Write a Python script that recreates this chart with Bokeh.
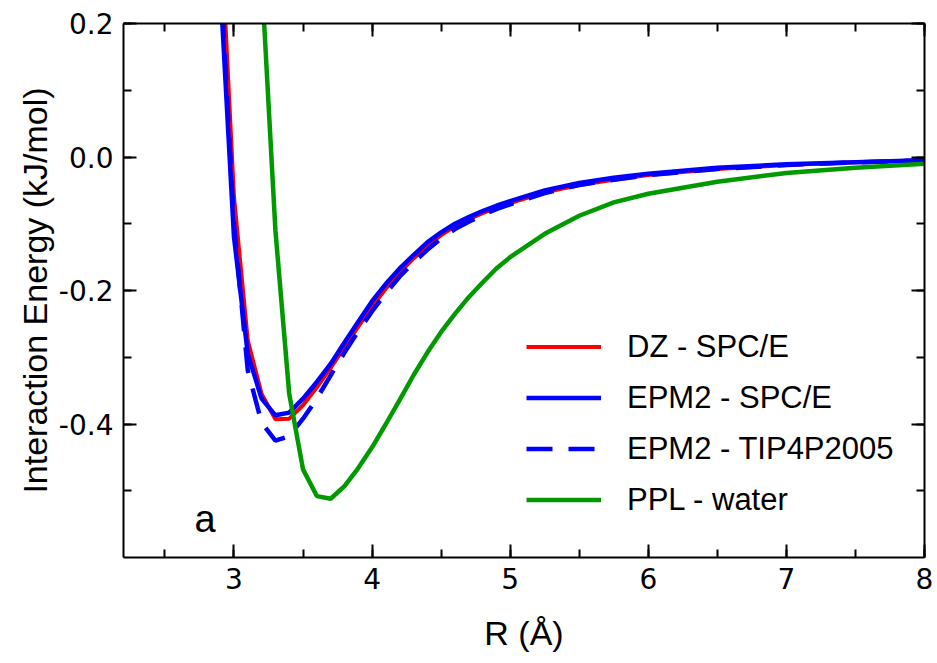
from bokeh.plotting import figure
from bokeh.models import (LinearAxis, SingleIntervalTicker, PrintfTickFormatter,
                          Range1d, Legend, LegendItem, Label, CustomLabelingPolicy)
from bokeh.embed import file_html
from bokeh.resources import INLINE

# ---------------- data ----------------
R_main = [2.9, 3.0, 3.1, 3.2, 3.3, 3.4, 3.5, 3.6, 3.7, 3.8, 3.9, 4.0, 4.1, 4.2,
          4.3, 4.4, 4.5, 4.6, 4.7, 4.8, 4.9, 5.0, 5.25, 5.5, 5.75, 6.0, 6.5,
          7.0, 7.5, 8.0]

dz_spce = [0.36, -0.06, -0.275, -0.355, -0.393, -0.392, -0.372, -0.345, -0.316,
           -0.285, -0.254, -0.224, -0.197, -0.173, -0.152, -0.133, -0.117,
           -0.104, -0.093, -0.084, -0.076, -0.069, -0.053, -0.042, -0.034,
           -0.027, -0.018, -0.012, -0.008, -0.005]

epm2_spce = [0.26, -0.12, -0.295, -0.362, -0.387, -0.383, -0.362, -0.337,
             -0.310, -0.278, -0.247, -0.216, -0.190, -0.167, -0.147, -0.128,
             -0.113, -0.100, -0.090, -0.081, -0.073, -0.066, -0.050, -0.039,
             -0.031, -0.025, -0.016, -0.011, -0.008, -0.005]

epm2_tip4p = [0.28, -0.10, -0.32, -0.398, -0.425, -0.418, -0.392, -0.362,
              -0.327, -0.293, -0.261, -0.231, -0.204, -0.179, -0.158, -0.139,
              -0.122, -0.108, -0.097, -0.087, -0.078, -0.071, -0.054, -0.042,
              -0.034, -0.027, -0.018, -0.012, -0.008, -0.005]

R_ppl = [3.2, 3.3, 3.4, 3.5, 3.6, 3.7, 3.8, 3.9, 4.0, 4.1, 4.2, 4.3, 4.4, 4.5,
         4.6, 4.7, 4.8, 4.9, 5.0, 5.25, 5.5, 5.75, 6.0, 6.5, 7.0, 7.5, 8.0]

ppl_water = [0.27, -0.11, -0.355, -0.468, -0.508, -0.512, -0.493, -0.466,
             -0.435, -0.400, -0.364, -0.327, -0.293, -0.262, -0.235, -0.210,
             -0.188, -0.167, -0.150, -0.115, -0.088, -0.068, -0.055, -0.037,
             -0.024, -0.016, -0.010]

series_labels = ["DZ - SPC/E", "EPM2 - SPC/E", "EPM2 - TIP4P2005", "PPL - water"]
x_label = "R (Å)"
y_label = "Interaction Energy (kJ/mol)"
panel_tag = "a"
panel_tag_pos = (2.79, -0.542)

FONT = "Liberation Sans"
TICK_FONT = "DejaVu Sans"

# ---------------- figure ----------------
p = figure(frame_width=801, frame_height=534,
           x_range=Range1d(2.2, 8.0), y_range=Range1d(-0.6, 0.2),
           output_backend="svg", toolbar_location=None,
           min_border_left=123, min_border_top=23, min_border_right=12,
           min_border_bottom=100)
p.xgrid.visible = False
p.ygrid.visible = False
p.outline_line_color = None
p.background_fill_color = "white"

xt = SingleIntervalTicker(interval=1, num_minor_ticks=2)
yt = SingleIntervalTicker(interval=0.2, num_minor_ticks=2)


def style_axis(ax, labels=True):
    ax.axis_line_width = 2
    ax.axis_line_color = "black"
    ax.major_tick_line_width = 2
    ax.minor_tick_line_width = 2
    ax.major_tick_in = 13
    ax.major_tick_out = 0
    ax.minor_tick_in = 8
    ax.minor_tick_out = 0
    ax.major_label_text_font = TICK_FONT
    ax.major_label_text_color = "black"
    ax.axis_label_text_font = FONT
    ax.axis_label_text_font_style = "normal"
    ax.axis_label_text_color = "black"
    if labels:
        ax.major_label_text_font_size = "28px"
        ax.axis_label_text_font_size = "34px"
    else:
        ax.major_label_text_font_size = "10px"
        ax.major_label_standoff = 0
        ax.major_label_policy = CustomLabelingPolicy(code="return new Set()")
        ax.axis_label = None


p.xaxis.ticker = xt
p.yaxis.ticker = yt
p.yaxis.formatter = PrintfTickFormatter(format="%.1f")
p.xaxis.axis_label = x_label
p.yaxis.axis_label = y_label
style_axis(p.xaxis[0])
style_axis(p.yaxis[0])
p.xaxis.major_label_standoff = 10
p.yaxis.major_label_standoff = 10
p.xaxis.axis_label_standoff = 22
p.yaxis.axis_label_standoff = 2

top_ax = LinearAxis(ticker=xt)
right_ax = LinearAxis(ticker=yt)
style_axis(top_ax, labels=False)
style_axis(right_ax, labels=False)
p.add_layout(top_ax, "above")
p.add_layout(right_ax, "right")

# ---------------- curves ----------------
r_red = p.line(R_main, dz_spce, line_color="#ff0000", line_width=4)
r_blue = p.line(R_main, epm2_spce, line_color="#0000ff", line_width=4.5)
r_dash = p.line(R_main, epm2_tip4p, line_color="#0000ff", line_width=4.5,
                line_dash="26 16")
r_green = p.line(R_ppl, ppl_water, line_color="#009900", line_width=4.5)

legend = Legend(items=[LegendItem(label=series_labels[0], renderers=[r_red]),
                       LegendItem(label=series_labels[1], renderers=[r_blue]),
                       LegendItem(label=series_labels[2], renderers=[r_dash]),
                       LegendItem(label=series_labels[3], renderers=[r_green])],
                location=(403, 32))
legend.border_line_color = None
legend.background_fill_alpha = 0
legend.padding = 0
legend.margin = 0
legend.spacing = 0
legend.glyph_width = 75
legend.glyph_height = 51
legend.label_height = 51
legend.label_standoff = 26
legend.label_text_font = FONT
legend.label_text_font_size = "31px"
legend.label_text_color = "black"
p.add_layout(legend, "center")

p.add_layout(Label(x=panel_tag_pos[0], y=panel_tag_pos[1], text=panel_tag,
                   text_font=FONT, text_font_size="38px", text_align="center",
                   text_baseline="alphabetic", text_color="black"))

open("out.html", "w").write(file_html(p, INLINE))
